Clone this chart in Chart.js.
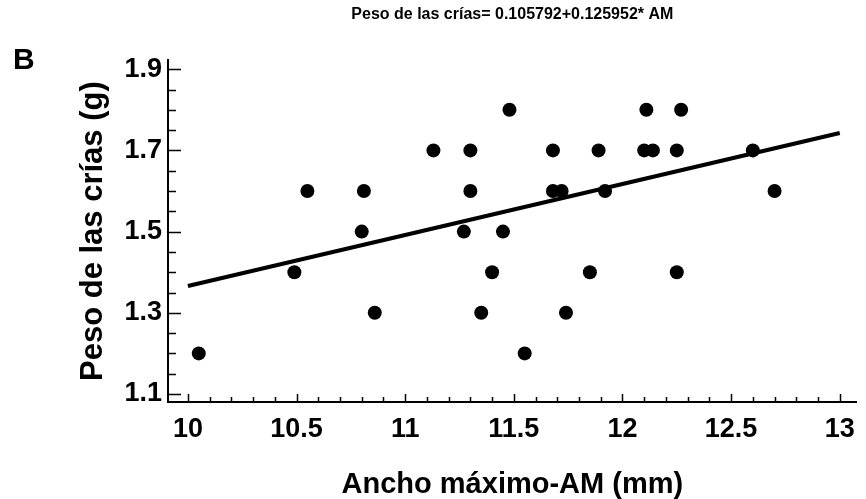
<!DOCTYPE html>
<html lang="es">

<head>
    <meta charset="UTF-8">
    <script src="https://cdn.jsdelivr.net/npm/chart.js"></script>
    <title>Peso de las crías vs Ancho máximo</title>
    <style>
        body { margin: 0; background: #fff; }
        .wrap { position: relative; width: 866px; height: 499px; }
        .panel-letter {
            position: absolute; left: 13px; top: 44px;
            font: bold 30px "Liberation Sans", Arial, sans-serif; line-height: 30px;
            color: #000;
        }
    </style>
</head>

<body>
    <div class="wrap">
        <canvas id="scatterChart" width="866" height="499"></canvas>
        <div class="panel-letter">B</div>
    </div>

<script>
    // Ancho máximo (mm) y peso de las crías (g)
    const anchoMaximo = [10.05, 10.49, 10.55, 10.80, 10.81, 10.86, 11.13, 11.27, 11.30, 11.30,
        11.35, 11.40, 11.45, 11.48, 11.55, 11.68, 11.68, 11.72, 11.74, 11.85,
        11.89, 11.92, 12.10, 12.11, 12.14, 12.25, 12.25, 12.27, 12.60, 12.70];
    const pesoCrias = [1.2, 1.4, 1.6, 1.5, 1.6, 1.3, 1.7, 1.5, 1.7, 1.6,
        1.3, 1.4, 1.5, 1.8, 1.2, 1.7, 1.6, 1.6, 1.3, 1.4,
        1.7, 1.6, 1.7, 1.8, 1.7, 1.7, 1.4, 1.8, 1.7, 1.6];

    // recta de regresión (extremos)
    const rectaX = [10, 13];
    const rectaY = [1.366, 1.743];

    const xTicks = [10, 10.5, 11, 11.5, 12, 12.5, 13];
    const yTicks = [1.1, 1.3, 1.5, 1.7, 1.9];
    const xMinorStep = 0.1;
    const yMinorStep = 0.05;

    const fontFamily = '"Liberation Sans", Arial, sans-serif';

    // marcas de los ejes hacia dentro
    const inwardTicks = {
        id: 'inwardTicks',
        afterDraw(chart) {
            const ctx = chart.ctx;
            const xs = chart.scales.x, ys = chart.scales.y;
            const area = chart.chartArea;
            ctx.save();
            ctx.strokeStyle = '#000';
            ctx.lineWidth = 1.5;
            ctx.beginPath();
            for (let i = 0; i <= 30; i++) {
                const v = 10 + i * xMinorStep;
                const major = i % 5 === 0;
                const px = Math.round(xs.getPixelForValue(v)) + 0.5;
                ctx.moveTo(px, area.bottom);
                ctx.lineTo(px, area.bottom - (major ? 8 : 5));
            }
            for (let i = 0; i <= 16; i++) {
                const v = 1.1 + i * yMinorStep;
                const major = i % 4 === 0;
                const py = Math.round(ys.getPixelForValue(v)) + 0.5;
                ctx.moveTo(area.left, py);
                ctx.lineTo(area.left + (major ? 13 : 8), py);
            }
            ctx.stroke();
            ctx.restore();
        }
    };

    const points = anchoMaximo.map((x, i) => ({ x: x, y: pesoCrias[i] }));
    const recta = rectaX.map((x, i) => ({ x: x, y: rectaY[i] }));

    const ctx = document.getElementById('scatterChart').getContext('2d');
    new Chart(ctx, {
        type: 'scatter',
        data: {
            datasets: [
                {
                    type: 'line',
                    data: recta,
                    borderColor: '#000',
                    borderWidth: 4,
                    pointRadius: 0,
                    fill: false
                },
                {
                    data: points,
                    backgroundColor: '#000',
                    borderWidth: 0,
                    pointRadius: 7
                }
            ]
        },
        options: {
            responsive: false,
            animation: false,
            layout: { padding: { left: 0, right: 6, top: 0, bottom: 0 } },
            plugins: {
                legend: { display: false },
                tooltip: { enabled: false },
                title: {
                    display: true,
                    text: 'Peso de las crías= 0.105792+0.125952* AM',
                    color: '#000',
                    fullSize: false,
                    font: { family: fontFamily, size: 16, weight: 'bold' },
                    padding: { top: 5, bottom: 36 }
                }
            },
            scales: {
                x: {
                    type: 'linear',
                    min: 9.9084,
                    max: 13.078,
                    afterFit(scale) { scale.height = 97; },
                    afterBuildTicks(scale) { scale.ticks = xTicks.map(v => ({ value: v })); },
                    grid: { drawOnChartArea: false, drawTicks: false },
                    border: { display: true, color: '#000', width: 2 },
                    ticks: {
                        color: '#000',
                        padding: 11,
                        maxRotation: 0,
                        autoSkip: false,
                        font: { family: fontFamily, size: 27, weight: 'bold' },
                        callback: v => String(v)
                    },
                    title: {
                        display: true,
                        text: 'Ancho máximo-AM (mm)',
                        color: '#000',
                        font: { family: fontFamily, size: 29, weight: 'bold' },
                        padding: { top: 0, bottom: -3 }
                    }
                },
                y: {
                    type: 'linear',
                    min: 1.0803,
                    max: 1.9222,
                    afterFit(scale) { scale.width = 168; },
                    afterBuildTicks(scale) { scale.ticks = yTicks.map(v => ({ value: v })); },
                    grid: { drawOnChartArea: false, drawTicks: false },
                    border: { display: true, color: '#000', width: 2 },
                    ticks: {
                        color: '#000',
                        padding: 6,
                        autoSkip: false,
                        font: { family: fontFamily, size: 27, weight: 'bold' },
                        callback: v => v.toFixed(1)
                    },
                    title: {
                        display: true,
                        text: 'Peso de las crías (g)',
                        color: '#000',
                        font: { family: fontFamily, size: 31, weight: 'bold' },
                        padding: { top: 75, bottom: 0 }
                    }
                }
            }
        },
        plugins: [inwardTicks]
    });
</script>
</body>

</html>
